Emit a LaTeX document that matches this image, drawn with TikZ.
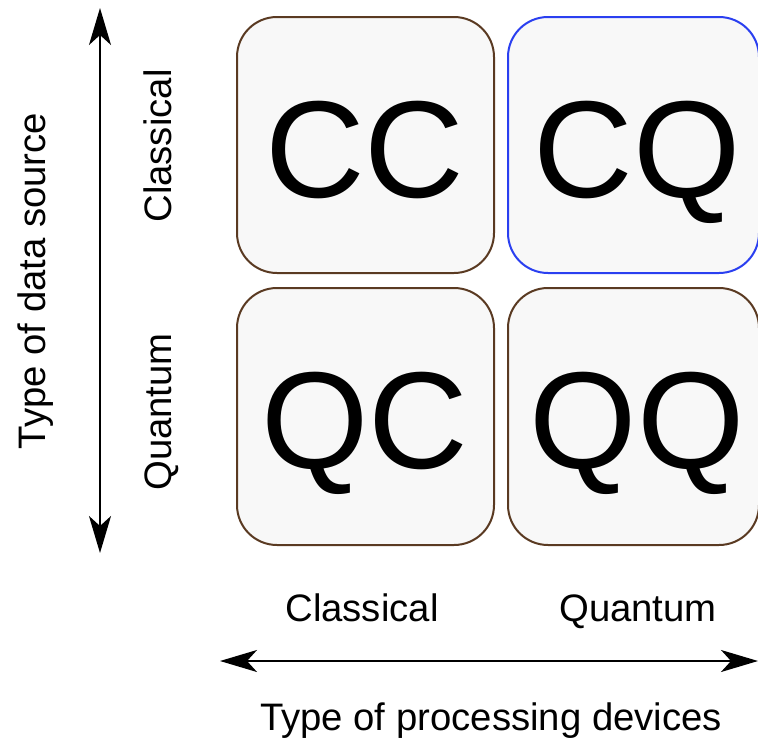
\documentclass[tikz,border=0pt]{standalone}
\usepackage{fontspec}
\setmainfont{Liberation Sans}
\usetikzlibrary{arrows.meta}
\definecolor{boxfill}{HTML}{F8F8F8}
\definecolor{brownline}{HTML}{5A3A22}
\definecolor{blueline}{HTML}{2A3FF0}
\tikzset{
  cell/.style={draw=brownline, fill=boxfill, line width=2pt, rounded corners=40pt},
  bigtxt/.style={anchor=base, inner sep=0pt, font=\fontsize{138}{138}\selectfont},
  lbl/.style={anchor=base, inner sep=0pt, font=\fontsize{38.3}{38.3}\selectfont},
  axis/.style={line width=2pt, {Stealth[length=37pt,width=22pt,inset=10pt]}-{Stealth[length=37pt,width=22pt,inset=10pt]}}
}
\begin{document}
\begin{tikzpicture}[x=1pt,y=-1pt]
\useasboundingbox (0,0) rectangle (758,742);
% boxes
\draw[cell] (237,17) rectangle (494,273);
\draw[cell, draw=blueline] (508,17) rectangle (759,273);
\draw[cell] (237,288) rectangle (494,545);
\draw[cell] (508,288) rectangle (759,545);
% big labels
\node[bigtxt] (cc) at (365,197) {CC};
\node[bigtxt] (cq) at (637,197) {CQ};
\node[bigtxt] (qc) at (365,468) {QC};
\node[bigtxt] (qq) at (637,468) {QQ};
% axis labels
\node[lbl, rotate=90] (vcl) at (171,146) {Classical};
\node[lbl, rotate=90] (vqu) at (171,412) {Quantum};
\node[lbl, rotate=90] (vty) at (45,281) {Type of data source};
\node[lbl] (hcl) at (362,621) {Classical};
\node[lbl] (hqu) at (638,621) {Quantum};
\node[lbl] (hty) at (491,730) {Type of processing devices};
% arrows
\coordinate (vt) at (100,8);
\coordinate (vb) at (100,553);
\coordinate (hl) at (220,661);
\coordinate (hr) at (758,661);
\draw[axis] (vt) -- (vb);
\draw[axis] (hl) -- (hr);
\end{tikzpicture}
\end{document}
